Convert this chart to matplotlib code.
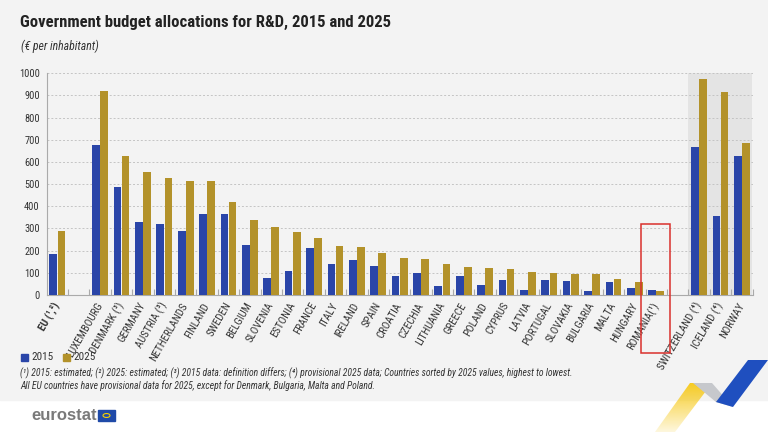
import numpy as np
import matplotlib
matplotlib.use("Agg")
import matplotlib.pyplot as plt
from matplotlib.patches import Rectangle, Polygon, Circle
from matplotlib.transforms import ScaledTranslation

FONTS = ['Roboto Condensed', 'PT Sans Narrow', 'Archivo Narrow', 'DejaVu Sans']
plt.rcParams['font.family'] = FONTS

# data (EUR per inhabitant)
eu_label = ["EU (¹,²)"]
eu_2015 = [184]
eu_2025 = [288]

members = ["LUXEMBOURG", "DENMARK (³)", "GERMANY", "AUSTRIA (³)", "NETHERLANDS",
           "FINLAND", "SWEDEN", "BELGIUM", "SLOVENIA", "ESTONIA", "FRANCE", "ITALY",
           "IRELAND", "SPAIN", "CROATIA", "CZECHIA", "LITHUANIA", "GREECE", "POLAND",
           "CYPRUS", "LATVIA", "PORTUGAL", "SLOVAKIA", "BULGARIA", "MALTA", "HUNGARY",
           "ROMANIA(¹)"]
members_2015 = [676, 486, 328, 320, 289, 367, 365, 227, 78, 108, 213, 140,
                159, 132, 87, 98, 42, 86, 47, 69, 24, 66, 62, 17, 57, 32, 21]
members_2025 = [919, 628, 555, 529, 514, 513, 418, 340, 305, 286, 258, 222,
                215, 189, 168, 162, 138, 125, 120, 116, 105, 99, 93, 93, 74, 57, 20]

efta = ["SWITZERLAND (⁴)", "ICELAND (⁴)", "NORWAY"]
efta_2015 = [669, 356, 628]
efta_2025 = [973, 916, 686]

labels = eu_label + members + efta
v2015 = eu_2015 + members_2015 + efta_2015
v2025 = eu_2025 + members_2025 + efta_2025

# positions with one empty slot between groups
pos = [0] + list(range(2, 2 + len(members)))
efta_start = pos[-1] + 2
pos += list(range(efta_start, efta_start + len(efta)))
pos = np.array(pos)

BLUE = "#2a45a8"
GOLD = "#b3922a"
BG = "#f3f3f3"

fig = plt.figure(figsize=(7.68, 4.32), dpi=100, facecolor="white")
fig.patches.append(Rectangle((0, 32 / 432), 1, 1, transform=fig.transFigure,
                             color=BG, zorder=-10))

ax = fig.add_axes([46.7 / 768, 137 / 432, (752.5 - 46.7) / 768, 221.7 / 432])
ax.set_facecolor(BG)
ax.axvspan(efta_start - 0.5, pos[-1] + 0.5, color="#e4e4e4", zorder=0, lw=0)

w = 0.36
ax.bar(pos - 0.19, v2015, width=w, color=BLUE, zorder=3)
ax.bar(pos + 0.19, v2025, width=w, color=GOLD, zorder=3)

ax.set_xlim(-0.5, pos[-1] + 0.5)
ax.set_ylim(0, 1000)
ax.set_yticks(range(0, 1001, 100))
ax.yaxis.grid(True, color="#c4c4c4", linestyle=(0, (2, 2)), linewidth=0.7, zorder=1)
ax.tick_params(axis="y", length=0, pad=5, labelsize=7.5, labelcolor="#333333")

ax.set_xticks(pos)
ax.set_xticklabels(labels, rotation=60, ha="right", va="center",
                   rotation_mode="anchor", fontsize=7.8, color="#333333")
shift = ScaledTranslation(4 / 100, 0, fig.dpi_scale_trans)
for lab in ax.get_xticklabels():
    lab.set_transform(lab.get_transform() + shift)
ax.get_xticklabels()[0].set_fontweight("bold")
ax.tick_params(axis="x", length=0, pad=6)
ax.set_xticks(np.arange(0.5, pos[-1] + 0.6, 1), minor=True)
ax.tick_params(axis="x", which="minor", direction="in", length=4, color="#aaaaaa", width=0.8)

for s in ["top", "right"]:
    ax.spines[s].set_visible(False)
for s in ["left", "bottom"]:
    ax.spines[s].set_color("#aaaaaa")
    ax.spines[s].set_linewidth(0.8)

# red box around Romania
rx = pos[len(members)]
ax.add_patch(Rectangle((rx - 0.7, -262), 1.35, 582, fill=False, edgecolor="#d9302c",
                       linewidth=1.1, clip_on=False, zorder=5))

# title and subtitle
fig.text(20 / 768, 1 - 22 / 432, "Government budget allocations for R&D, 2015 and 2025",
         fontsize=12, fontweight="bold", color="#222222", va="center")
fig.text(21 / 768, 1 - 46 / 432, "(€ per inhabitant)", fontsize=8.5, style="italic",
         color="#333333", va="center")

# legend
for i, (c, t) in enumerate([(BLUE, "2015"), (GOLD, "2025")]):
    x0 = 21 + i * 42
    fig.patches.append(Rectangle((x0 / 768, 1 - 361 / 432), 7 / 768, 7 / 432,
                                 transform=fig.transFigure, color=c))
    fig.text((x0 + 10) / 768, 1 - 357.5 / 432, t, fontsize=8, color="#333333", va="center")

fig.text(20 / 768, 1 - 373 / 432,
         "(¹) 2015: estimated; (²) 2025: estimated; (³) 2015 data: definition differs; "
         "(⁴) provisional 2025 data; Countries sorted by 2025 values, highest to lowest.",
         fontsize=6.9, style="italic", color="#333333", va="center")
fig.text(20 / 768, 1 - 386 / 432,
         "All EU countries have provisional data for 2025, except for Denmark, Bulgaria, Malta and Poland.",
         fontsize=6.9, style="italic", color="#333333", va="center")

# eurostat logo
fig.text(31 / 768, 1 - 416 / 432, "eurostat", fontsize=12, fontweight="bold",
         color="#7a7a7a", va="center", family=["Liberation Sans", "DejaVu Sans"])
fig.patches.append(Rectangle((98 / 768, 1 - 421 / 432), 17 / 768, 11 / 432,
                             transform=fig.transFigure, color="#1f4aa8"))
fig.patches.append(Circle((106.5 / 768, 1 - 415.5 / 432), 3.5 / 768,
                          transform=fig.transFigure, fill=False,
                          edgecolor="#f5d000", linewidth=0.8))

# decorative stripes bottom right
def fpoly(pts, color, **kw):
    xy = [(x / 768, 1 - y / 432) for x, y in pts]
    p = Polygon(xy, closed=True, transform=fig.transFigure, color=color, lw=0, **kw)
    fig.patches.append(p)
    return p

# yellow stripe fading towards the bottom
deco = fig.add_axes([0, 0, 1, 1], zorder=-5)
deco.set_axis_off()
deco.set_xlim(0, 768)
deco.set_ylim(432, 0)
grad = np.zeros((60, 2, 4))
grad[..., :3] = matplotlib.colors.to_rgb("#f7c917")
grad[..., 3] = np.linspace(1, 0.15, 60)[:, None]
img = deco.imshow(grad, extent=(650, 715, 432, 380), aspect="auto", origin="upper")
clip = Polygon([(655, 432), (675, 432), (712, 383), (690, 383)], closed=True,
               transform=deco.transData, visible=False)
deco.add_patch(clip)
img.set_clip_path(clip)

fpoly([(693, 383), (712, 383), (733, 407), (716, 402)], "#c6c8cc")
fpoly([(716, 402), (733, 407), (768, 360), (748, 360)], "#1f4fbf")

fig.savefig("out.png", dpi=100, facecolor=fig.get_facecolor())
